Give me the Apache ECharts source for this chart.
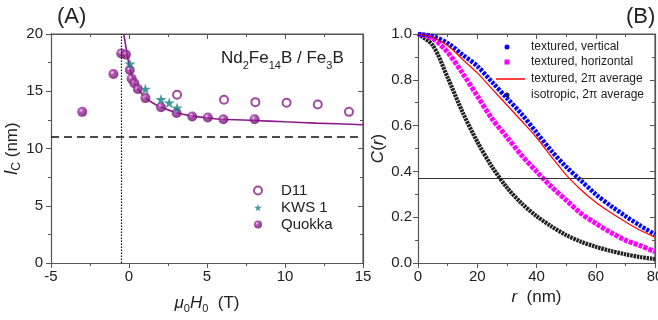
<!DOCTYPE html>
<html>
<head>
<meta charset="utf-8">
<script src="https://cdn.jsdelivr.net/npm/echarts@6/dist/echarts.min.js"></script>
<style>html,body{margin:0;padding:0;background:#fff}#c{width:658px;height:320px}</style>
</head>
<body>
<div id="c"></div>
<script>
// ---- Panel A data ----
const quokkaH = [-3, -1, -0.5, -0.2, 0.05, 0.17, 0.34, 0.56, 1.05, 2.05, 3.05, 4.05, 5.05, 6.05, 8.05];
const quokkaL = [13.2, 16.5, 18.3, 18.2, 16.85, 16.1, 15.7, 15.2, 14.4, 13.6, 13.1, 12.8, 12.7, 12.55, 12.55];
const kwsH = [0.06, 1.05, 2.05, 2.58, 3.08];
const kwsL = [17.4, 15.2, 14.3, 14.0, 13.56];
const d11H = [3.08, 6.09, 8.1, 10.1, 12.1, 14.1];
const d11L = [14.7, 14.25, 14.05, 14.0, 13.85, 13.2];
const fitH = [-0.34, -0.25, -0.15, 0, 0.25, 0.5, 1, 1.5, 2, 3, 4, 5, 6, 8, 10, 12, 15];
const fitL = [20, 19.3, 18.5, 17.3, 16.0, 15.35, 14.5, 14.0, 13.65, 13.15, 12.85, 12.68, 12.55, 12.45, 12.33, 12.22, 12.08];
const dashedLevel = 11.0;
const dottedField = -0.5;
const xTicksA = [-5, 15, 5];
const yTicksA = [0, 20, 5];

// ---- Panel B data ----
const rVals = [0, 5, 10, 15, 20, 25, 30, 35, 40, 45, 50, 55, 60, 65, 70, 75, 80];
const cVertical = [1.0, 0.99, 0.96, 0.91, 0.86, 0.79, 0.72, 0.65, 0.57, 0.49, 0.42, 0.36, 0.30, 0.25, 0.205, 0.163, 0.125];
const cHorizontal = [1.0, 0.98, 0.92, 0.83, 0.73, 0.63, 0.55, 0.47, 0.40, 0.333, 0.275, 0.217, 0.173, 0.134, 0.10, 0.076, 0.049];
const cAverage = [1.0, 0.985, 0.95, 0.89, 0.83, 0.76, 0.69, 0.62, 0.548, 0.465, 0.385, 0.32, 0.265, 0.22, 0.18, 0.143, 0.113];
const cIsotropic = [1.0, 0.95, 0.81, 0.66, 0.53, 0.42, 0.33, 0.26, 0.205, 0.16, 0.122, 0.093, 0.071, 0.053, 0.038, 0.026, 0.017];
const eLevel = 0.368;
const xTicksB = [0, 80, 20];
const yTicksB = [0, 1, 0.2];

const FONT = 'Liberation Sans, Arial, sans-serif';
const TXT = '#222';
const AX = '#555';
const PURPLE = '#8b1a8b';
const TEAL = '#17807f';

const zip = (a, b) => a.map((v, i) => [v, b[i]]);
// top + right edges of a plot box, from the axis extents
const boxEdges = (xt, yt) => [[xt[0], yt[1]], [xt[1], yt[1]], [xt[1], yt[0]]];

const chart = echarts.init(document.getElementById('c'), null, {renderer: 'canvas'});

function axisBase(grid, pos, t, opts) {
  return Object.assign({
    type: 'value', gridIndex: grid, position: pos,
    min: t[0], max: t[1], interval: t[2],
    axisLine: {show: true, onZero: false, lineStyle: {color: AX, width: 1.2}},
    splitLine: {show: false},
    axisTick: {show: true, inside: false, length: 5, lineStyle: {color: AX, width: 1}},
    minorTick: {show: true, splitNumber: 2, length: 3, lineStyle: {color: AX, width: 1}},
    axisLabel: {show: true, color: TXT, fontSize: 15, fontFamily: FONT}
  }, opts || {});
}
function mirror(grid, pos, t) {
  return {
    type: 'value', gridIndex: grid, position: pos,
    min: t[0], max: t[1], interval: t[2],
    axisLine: {show: true, onZero: false, lineStyle: {color: AX, width: 1.2}},
    splitLine: {show: false},
    axisTick: {show: true, inside: true, length: 5, lineStyle: {color: AX, width: 1}},
    minorTick: {show: true, splitNumber: 2, length: 3, lineStyle: {color: AX, width: 1}},
    axisLabel: {show: false}
  };
}

const sphere = {
  type: 'radial', x: 0.38, y: 0.35, r: 0.7,
  colorStops: [
    {offset: 0, color: '#f0c8f0'},
    {offset: 0.3, color: '#a030a0'},
    {offset: 1, color: '#650865'}
  ]
};

const starPath = 'path://M50,0 L61,35 L98,35 L68,57 L79,91 L50,70 L21,91 L32,57 L2,35 L39,35 Z';

const option = {
  animation: false,
  tooltip: {show: false},
  title: [
    {text: '(A)', left: 52, top: 1, textStyle: {fontSize: 22, fontWeight: 'normal', color: TXT, fontFamily: FONT}},
    {text: '(B)', left: 621, top: 1, textStyle: {fontSize: 22, fontWeight: 'normal', color: TXT, fontFamily: FONT}},
    {text: '{a|Nd}{b|2}{a|Fe}{b|14}{a|B / Fe}{b|3}{a|B}', left: 216, top: 42,
     textStyle: {fontWeight: 'normal', rich: {
       a: {fontSize: 17, fontWeight: 'normal', color: TXT, fontFamily: FONT, verticalAlign: 'bottom', lineHeight: 20},
       b: {fontSize: 11, fontWeight: 'normal', color: TXT, fontFamily: FONT, verticalAlign: 'bottom', padding: [0, 0, -4, 0], lineHeight: 20}
     }}}
  ],
  grid: [
    {left: 51, right: 295, top: 34, bottom: 57, outerBoundsMode: 'none'},
    {left: 418, right: 3, top: 34, bottom: 57, outerBoundsMode: 'none'}
  ],
  xAxis: [
    axisBase(0, 'bottom', xTicksA, {
      name: '{i|μ}{s|0}{i|H}{s|0}{n|  (T)}', nameLocation: 'middle', nameGap: 30,
      nameTextStyle: {rich: {
        i: {fontSize: 17, fontStyle: 'italic', color: TXT, fontFamily: FONT},
        s: {fontSize: 11, color: TXT, fontFamily: FONT, padding: [10, 0, 0, 0]},
        n: {fontSize: 17, color: TXT, fontFamily: FONT}
      }},
      axisLabel: {color: TXT, fontSize: 15, fontFamily: FONT, margin: 6}
    }),
    mirror(0, 'top', xTicksA),
    axisBase(1, 'bottom', xTicksB, {
      name: '{i|r}{n|  (nm)}', nameLocation: 'middle', nameGap: 24,
      nameTextStyle: {rich: {
        i: {fontSize: 17, fontStyle: 'italic', color: TXT, fontFamily: FONT},
        n: {fontSize: 17, color: TXT, fontFamily: FONT}
      }},
      axisLabel: {color: TXT, fontSize: 15, fontFamily: FONT, margin: 6}
    }),
    mirror(1, 'top', xTicksB)
  ],
  yAxis: [
    axisBase(0, 'left', yTicksA, {
      name: '{i|l}{s|C}{n| (nm)}', nameLocation: 'middle', nameGap: 22, nameRotate: 90,
      nameTextStyle: {rich: {
        i: {fontSize: 18, fontStyle: 'italic', color: TXT, fontFamily: FONT},
        s: {fontSize: 12, color: TXT, fontFamily: FONT, padding: [9, 0, 0, 0]},
        n: {fontSize: 17, color: TXT, fontFamily: FONT}
      }},
      axisLabel: {color: TXT, fontSize: 15, fontFamily: FONT, margin: 8}
    }),
    mirror(0, 'right', yTicksA),
    axisBase(1, 'left', yTicksB, {
      name: '{i|C}{n|(}{i|r}{n|)}', nameLocation: 'middle', nameGap: 29, nameRotate: 90,
      nameTextStyle: {rich: {
        i: {fontSize: 17, fontStyle: 'italic', color: TXT, fontFamily: FONT},
        n: {fontSize: 17, color: TXT, fontFamily: FONT}
      }},
      axisLabel: {color: TXT, fontSize: 15, fontFamily: FONT, margin: 6,
                  formatter: v => v.toFixed(1)}
    }),
    mirror(1, 'right', yTicksB)
  ],
  legend: [
    {orient: 'vertical', left: 253, top: 183, padding: 0, itemGap: 2,
     itemWidth: 8, itemHeight: 8, selectedMode: false,
     textStyle: {fontSize: 15, color: TXT, fontFamily: FONT, padding: [0, 0, 0, 14]},
     data: ['D11', 'KWS 1', 'Quokka']},
    {left: 504.5, top: 41, padding: 0, itemWidth: 5, itemHeight: 5, selectedMode: false,
     textStyle: {fontSize: 12, color: TXT, fontFamily: FONT, padding: [0, 0, 0, 16.5]},
     data: [{name: 'textured, vertical', icon: 'circle'}]},
    {left: 504.5, top: 56, padding: 0, itemWidth: 5, itemHeight: 5, selectedMode: false,
     textStyle: {fontSize: 12, color: TXT, fontFamily: FONT, padding: [0, 0, 0, 16.5]},
     data: [{name: 'textured, horizontal', icon: 'rect'}]},
    {left: 496, top: 73, padding: 0, itemWidth: 29, itemHeight: 1.5, selectedMode: false,
     textStyle: {fontSize: 12, color: TXT, fontFamily: FONT, padding: [0, 0, 0, 1]},
     data: [{name: 'textured, 2π average', icon: 'rect'}]},
    {left: 504.5, top: 89, padding: 0, itemWidth: 5, itemHeight: 5, selectedMode: false,
     textStyle: {fontSize: 12, color: TXT, fontFamily: FONT, padding: [0, 0, 0, 16.5]},
     data: [{name: 'isotropic, 2π average', icon: 'circle'}]}
  ],
  series: [
    {name: 'frameA', type: 'line', xAxisIndex: 0, yAxisIndex: 0, data: boxEdges(xTicksA, yTicksA),
     showSymbol: false, symbol: 'none', clip: false, silent: true, z: 1,
     lineStyle: {color: AX, width: 1.2}},
    {name: 'frameB', type: 'line', xAxisIndex: 2, yAxisIndex: 2, data: boxEdges(xTicksB, yTicksB),
     showSymbol: false, symbol: 'none', clip: false, silent: true, z: 1,
     lineStyle: {color: AX, width: 1.2}},

    {name: 'fit', type: 'line', xAxisIndex: 0, yAxisIndex: 0, data: zip(fitH, fitL),
     smooth: 0.3, showSymbol: false, symbol: 'none', clip: true,
     lineStyle: {color: PURPLE, width: 1.6}, z: 2,
     markLine: {silent: true, symbol: 'none', label: {show: false}, animation: false,
       data: [
         {yAxis: dashedLevel, lineStyle: {color: '#111', width: 1.6, type: [8, 5]}},
         {xAxis: dottedField, lineStyle: {color: '#111', width: 1.2, type: [1.5, 1.5]}}
       ]}},
    {name: 'D11', type: 'scatter', xAxisIndex: 0, yAxisIndex: 0, data: zip(d11H, d11L),
     symbol: 'emptyCircle', symbolSize: 8,
     itemStyle: {color: PURPLE, borderColor: PURPLE, borderWidth: 1.3}, z: 3},
    {name: 'Quokka', type: 'scatter', xAxisIndex: 0, yAxisIndex: 0, data: zip(quokkaH, quokkaL),
     symbol: 'circle', symbolSize: 10,
     itemStyle: {color: sphere}, z: 4},
    {name: 'KWS 1', type: 'scatter', xAxisIndex: 0, yAxisIndex: 0, data: zip(kwsH, kwsL),
     symbol: starPath, symbolSize: 11,
     itemStyle: {color: TEAL}, z: 5},

    {name: 'isotropic, 2π average', type: 'line', xAxisIndex: 2, yAxisIndex: 2,
     data: zip(rVals, cIsotropic), smooth: 0.3, showSymbol: false, symbol: 'circle',
     itemStyle: {color: '#222'},
     lineStyle: {color: '#222', width: 4.2, type: [2.5, 0.8]}, z: 2,
     markLine: {silent: true, symbol: 'none', label: {show: false}, animation: false,
       data: [{yAxis: eLevel, lineStyle: {color: '#333', width: 1.2, type: 'solid'}}]}},
    {name: 'textured, horizontal', type: 'line', xAxisIndex: 2, yAxisIndex: 2,
     data: zip(rVals, cHorizontal), smooth: 0.3, showSymbol: false, symbol: 'rect',
     itemStyle: {color: '#ff00ff'},
     lineStyle: {color: '#ff00ff', width: 5, type: [4, 1.2], cap: 'butt'}, z: 3},
    {name: 'textured, vertical', type: 'line', xAxisIndex: 2, yAxisIndex: 2,
     data: zip(rVals, cVertical), smooth: 0.3, showSymbol: false, symbol: 'circle',
     itemStyle: {color: '#0000ff'},
     lineStyle: {color: '#0000ff', width: 4.5, type: [3, 1.3]}, z: 4},
    {name: 'textured, 2π average', type: 'line', xAxisIndex: 2, yAxisIndex: 2,
     data: zip(rVals, cAverage), smooth: 0.3, showSymbol: false, symbol: 'none',
     itemStyle: {color: '#ff0000'},
     lineStyle: {color: '#ff0000', width: 1.2}, z: 5}
  ]
};
chart.setOption(option);
</script>
</body>
</html>
